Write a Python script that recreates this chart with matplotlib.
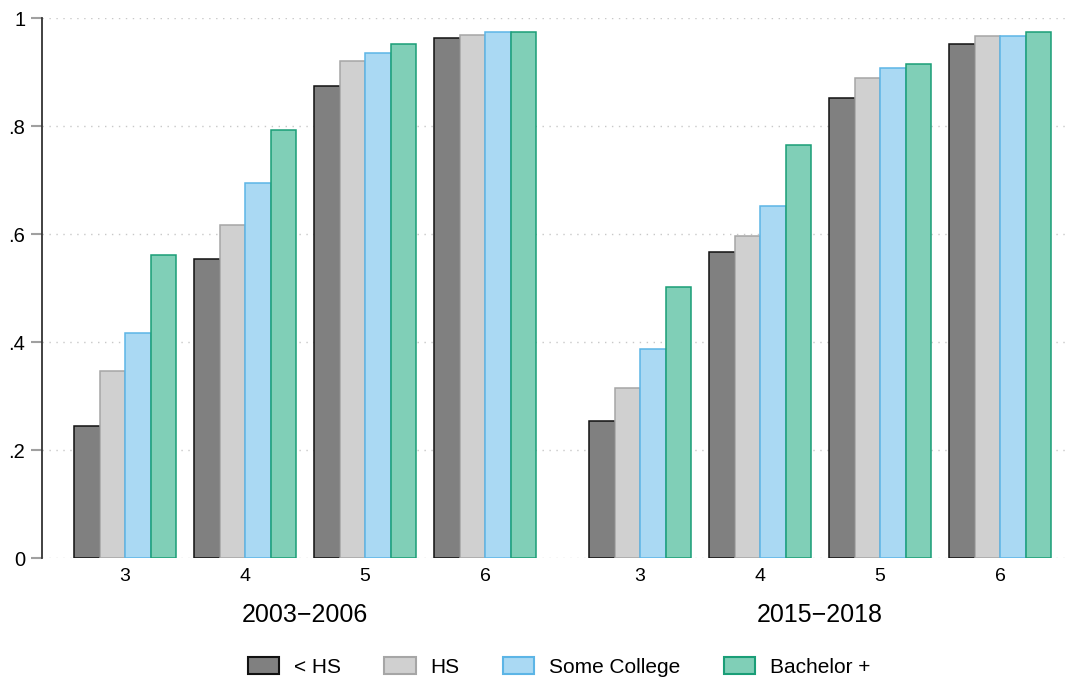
import matplotlib
matplotlib.use("Agg")
import matplotlib.pyplot as plt
from matplotlib.patches import Patch
import numpy as np

plt.rcParams['font.family'] = ['Liberation Sans', 'DejaVu Sans']

ages = ["3", "4", "5", "6"]
periods = ["2003\u22122006", "2015\u22122018"]
series = ["< HS", "HS", "Some College", "Bachelor +"]

lt_hs_0306 = [0.244, 0.554, 0.874, 0.963]
hs_0306 = [0.346, 0.617, 0.920, 0.969]
sc_0306 = [0.417, 0.694, 0.935, 0.974]
ba_0306 = [0.561, 0.793, 0.952, 0.974]

lt_hs_1518 = [0.254, 0.567, 0.852, 0.952]
hs_1518 = [0.315, 0.596, 0.889, 0.967]
sc_1518 = [0.387, 0.652, 0.907, 0.967]
ba_1518 = [0.502, 0.765, 0.915, 0.974]

fills = ["#808080", "#d0d0d0", "#aad9f3", "#80cfb7"]
edges = ["#111111", "#a6a6a6", "#5cb5e6", "#1a9e77"]

data = {
    0: [lt_hs_0306, hs_0306, sc_0306, ba_0306],
    1: [lt_hs_1518, hs_1518, sc_1518, ba_1518],
}

fig = plt.figure(figsize=(10.75, 6.85), dpi=100)
ax = fig.add_axes([42/1075, (685-558)/685, (1070-42)/1075, 540/685])

bw = 0.2125
group_offset = [0.0, 4.2917]
for g in range(2):
    centers = np.arange(4) + group_offset[g]
    for s in range(4):
        xs = centers + (s - 1.5) * bw
        ax.bar(xs, data[g][s], width=bw, color=fills[s], edgecolor=edges[s],
               linewidth=1.1, zorder=3)

ax.set_xlim(-0.692, 7.875)
ax.set_ylim(0, 1)

yt = [0, 0.2, 0.4, 0.6, 0.8, 1.0]
ax.set_yticks(yt)
ax.set_yticklabels(["0", ".2", ".4", ".6", ".8", "1"], fontsize=14.5)
for y in yt:
    ax.axhline(y, color="#c8c8c8", linestyle=(0, (1, 4)), linewidth=1.0, zorder=1)

allc = list(np.arange(4) + group_offset[0]) + list(np.arange(4) + group_offset[1])
ax.set_xticks(allc)
ax.set_xticklabels(ages * 2, fontsize=14)
ax.tick_params(axis="x", length=0, pad=7)
ax.tick_params(axis="y", length=8, width=1.5, color="#a0a0a0", pad=4)

for sp in ["top", "right", "bottom"]:
    ax.spines[sp].set_visible(False)
ax.spines["left"].set_color("#333333")
ax.spines["left"].set_linewidth(1.3)

for g in range(2):
    cx = group_offset[g] + 1.5
    ax.text(cx, -0.105, periods[g], ha="center", va="center", fontsize=18,
            transform=ax.get_xaxis_transform())

handles = [Patch(facecolor=fills[i], edgecolor=edges[i], linewidth=1.5) for i in range(4)]
fig.legend(handles, series, loc="center", bbox_to_anchor=(0.52, (685-667)/685),
           ncol=4, frameon=False, fontsize=15, handlelength=1.5, handleheight=0.85,
           handletextpad=0.7, columnspacing=2.1)

fig.savefig("out.png", dpi=100)
